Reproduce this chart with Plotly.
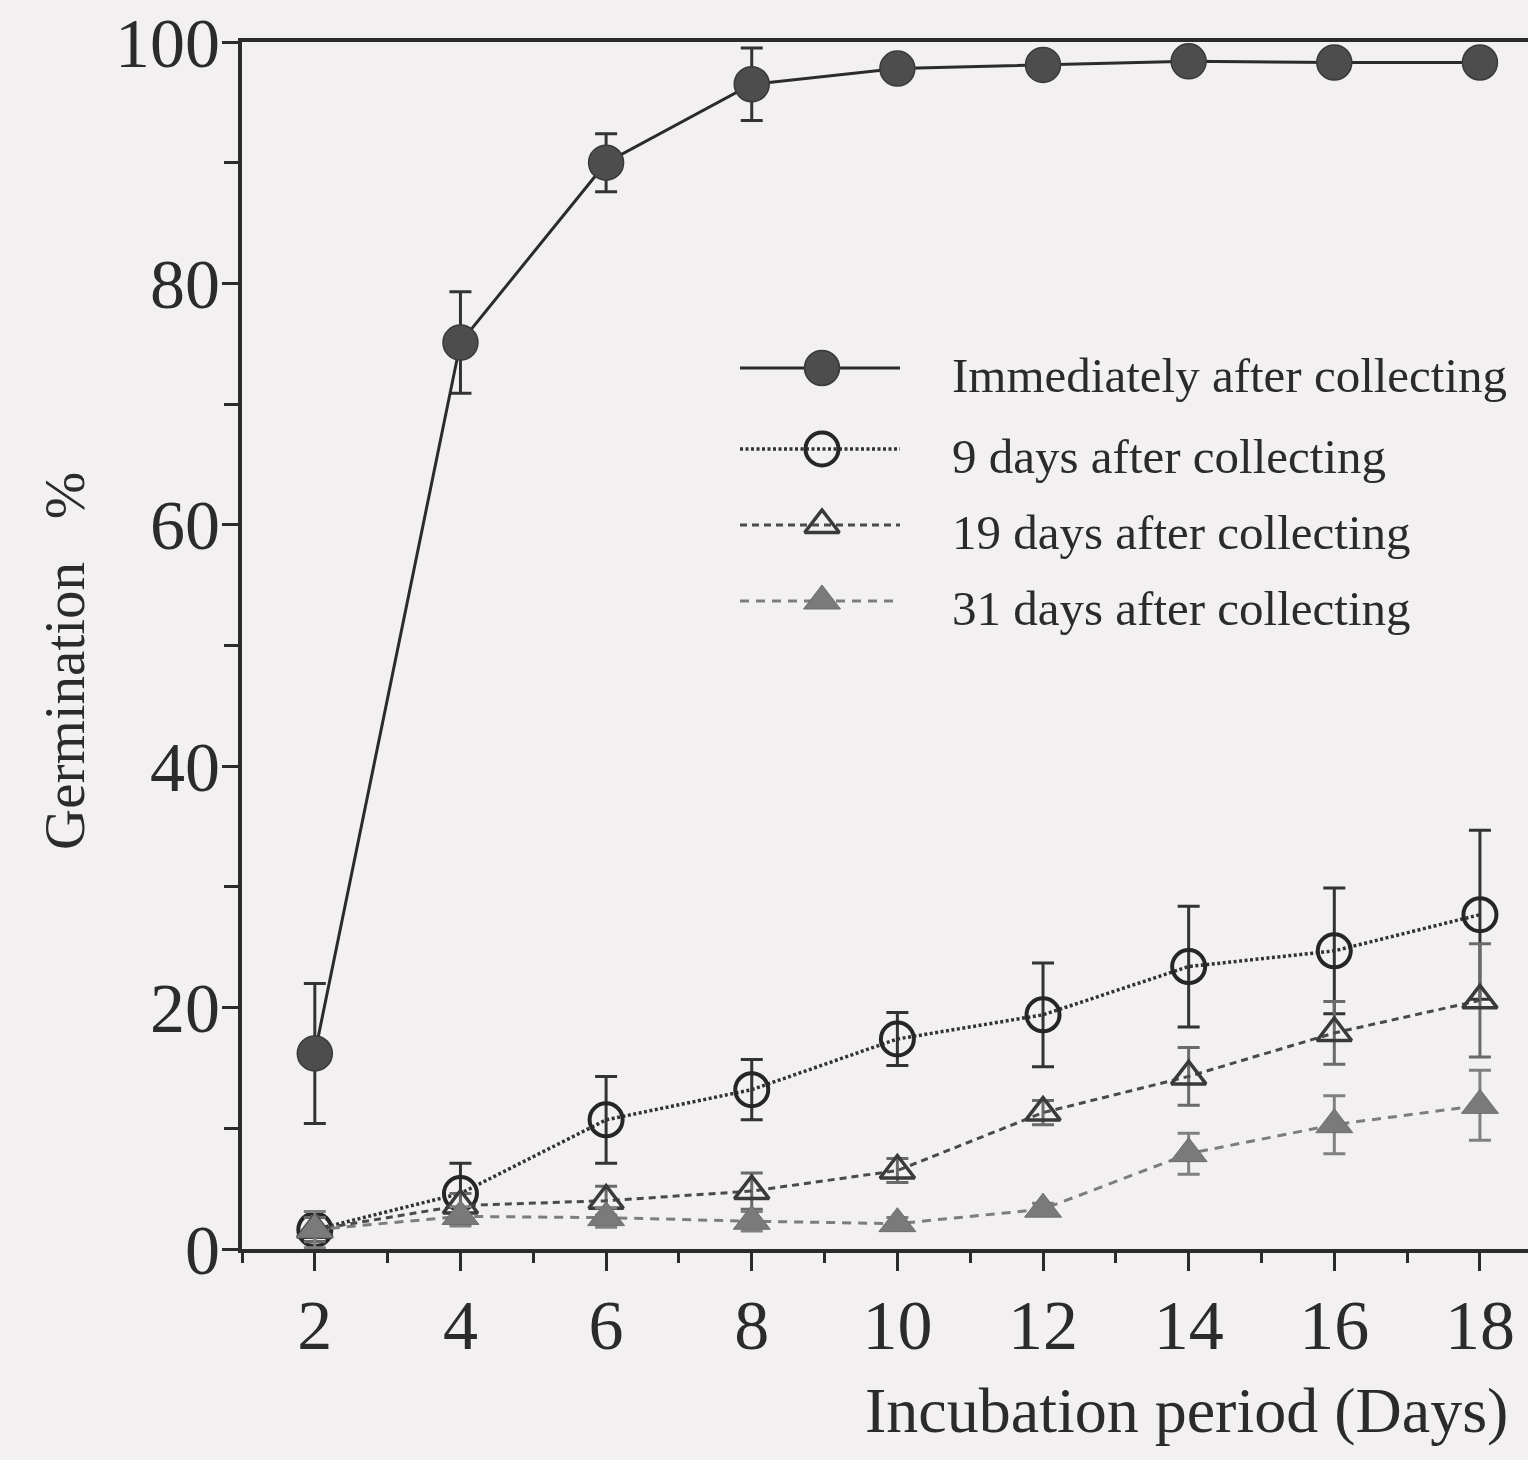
import plotly.graph_objects as go

# Germination over the incubation period for seed lots sown at different times after collecting
days = [2, 4, 6, 8, 10, 12, 14, 16, 18]

immediate = [16.2, 75.1, 90.0, 96.5, 97.8, 98.1, 98.4, 98.3, 98.3]
immediate_err = [5.8, 4.2, 2.4, 3.0, 0.6, 0.6, 0.5, 0.5, 0.5]

after9 = [1.6, 4.6, 10.7, 13.2, 17.4, 19.4, 23.4, 24.7, 27.7]
after9_err = [1.0, 2.5, 3.6, 2.5, 2.2, 4.3, 5.0, 5.2, 7.0]

after19 = [1.6, 3.6, 4.0, 4.8, 6.5, 11.3, 14.3, 17.9, 20.6]
after19_err = [1.0, 1.0, 1.2, 1.5, 1.0, 1.0, 2.4, 2.6, 4.7]

after31 = [1.6, 2.7, 2.6, 2.3, 2.1, 3.3, 7.9, 10.3, 11.9]
after31_err = [1.5, 0.8, 0.8, 0.8, 0.5, 0.5, 1.7, 2.4, 2.9]

series_names = [
    "Immediately after collecting",
    "9 days after collecting",
    "19 days after collecting",
    "31 days after collecting",
]

y_ticks = [0, 20, 40, 60, 80, 100]
x_ticks = [2, 4, 6, 8, 10, 12, 14, 16, 18]

# page / layout geometry (pixels)
W, H = 1528, 1460
L, R, T, B = 242, 0, 42, 211
BG = "#f3f0f2"
INK = "#2b2b2b"
FONT = "Liberation Serif"

styles = [
    dict(line=dict(color=INK, width=3, dash="solid"),
         marker=dict(symbol="circle", size=35, color="#4d4d4d", line=dict(color="#3a3a3a", width=1.5)),
         err="#333333"),
    dict(line=dict(color="#333333", width=3.5, dash="3px,2.5px"),
         marker=dict(symbol="circle", size=33, color="rgba(0,0,0,0)", line=dict(color="#262626", width=4)),
         err="#333333"),
    dict(line=dict(color="#4a4a4a", width=3, dash="7px,5px"),
         marker=dict(symbol="triangle-up", size=30, color="rgba(0,0,0,0)", line=dict(color="#3a3a3a", width=3.5)),
         err="#6a6a6a"),
    dict(line=dict(color="#7d7d7d", width=3, dash="9px,7px"),
         marker=dict(symbol="triangle-up", size=32, color="#7a7a7a", line=dict(color="#6d6d6d", width=1)),
         err="#808080"),
]

values = [immediate, after9, after19, after31]
errors = [immediate_err, after9_err, after19_err, after31_err]

fig = go.Figure()

for name, vals, errs, st in zip(series_names, values, errors, styles):
    fig.add_trace(go.Scatter(
        x=days, y=vals, name=name, mode="lines+markers",
        line=st["line"], marker=st["marker"],
        error_y=dict(type="data", array=errs, visible=True,
                     color=st["err"], thickness=3, width=11),
        cliponaxis=False, showlegend=False,
    ))

# legend keys drawn on a pixel-scaled overlay axis
key_x0, key_x1, key_mid = 740, 900, 822
key_rows = [368, 449, 525, 601]
text_x = 950
for name, row, st in zip(series_names, key_rows, styles):
    fig.add_trace(go.Scatter(
        x=[key_x0, key_x1], y=[row, row], mode="lines", line=st["line"],
        xaxis="x2", yaxis="y2", showlegend=False, hoverinfo="skip",
    ))
    fig.add_trace(go.Scatter(
        x=[key_mid], y=[row], mode="markers", marker=st["marker"],
        xaxis="x2", yaxis="y2", showlegend=False, hoverinfo="skip", cliponaxis=False,
    ))
    fig.add_annotation(
        x=text_x, y=row + 7, xref="x2", yref="y2", text=name, showarrow=False,
        xanchor="left", yanchor="middle",
        font=dict(family=FONT, size=49, color=INK),
    )

plot_w = W - L - R
plot_h = H - T - B


def px_x(p):
    return (p - L) / plot_w


def px_y(p):
    return (H - B - p) / plot_h


# axis titles
fig.add_annotation(
    x=px_x(1510), y=px_y(1410), xref="paper", yref="paper",
    text="Incubation period (Days)", showarrow=False,
    xanchor="right", yanchor="middle",
    font=dict(family=FONT, size=64, color=INK),
)
fig.add_annotation(
    x=px_x(64), y=px_y(661), xref="paper", yref="paper",
    text="Germination\u00a0\u00a0\u00a0%", showarrow=False, textangle=-90,
    xanchor="center", yanchor="middle",
    font=dict(family=FONT, size=57, color=INK),
)

fig.update_layout(
    width=W, height=H,
    margin=dict(l=L, r=R, t=T, b=B, pad=0),
    paper_bgcolor=BG, plot_bgcolor=BG,
    font=dict(family=FONT, color=INK),
    xaxis=dict(
        range=[1, 18.66], tickvals=x_ticks, ticktext=[str(v) for v in x_ticks],
        showgrid=False, zeroline=False,
        showline=True, linecolor=INK, linewidth=4, mirror=True,
        ticks="outside", ticklen=18, tickwidth=3, tickcolor=INK,
        minor=dict(dtick=1, tick0=1, ticks="outside", ticklen=10, tickwidth=3, tickcolor=INK),
        tickfont=dict(family=FONT, size=70, color=INK),
        ticklabelstandoff=-6,
    ),
    yaxis=dict(
        range=[0, 100], tickvals=y_ticks, ticktext=[str(v) for v in y_ticks],
        showgrid=False, zeroline=False,
        showline=True, linecolor=INK, linewidth=4,
        ticks="outside", ticklen=16, tickwidth=3, tickcolor=INK,
        minor=dict(dtick=10, tick0=0, ticks="outside", ticklen=14, tickwidth=3, tickcolor=INK),
        tickfont=dict(family=FONT, size=70, color=INK),
        ticklabelstandoff=-12,
    ),
    xaxis2=dict(range=[L, W - R], overlaying="x", visible=False, fixedrange=True),
    yaxis2=dict(range=[H - B, T], overlaying="y", visible=False, fixedrange=True),
)

fig.write_html("out.html")
